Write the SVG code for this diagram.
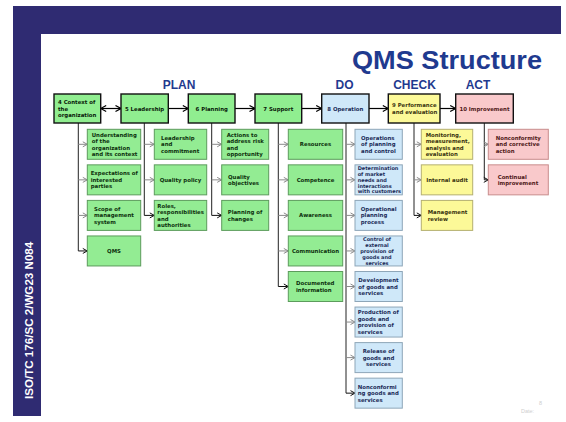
<svg xmlns="http://www.w3.org/2000/svg" width="566" height="422" viewBox="0 0 566 422">
<style>
.frame{fill:#2f2b72}
.gt{fill:#90ee90;stroke:#111;stroke-width:1.4}
.bt{fill:#cfe8f9;stroke:#111;stroke-width:1.4}
.yt{fill:#fcf998;stroke:#111;stroke-width:1.4}
.pt{fill:#f9c9cb;stroke:#111;stroke-width:1.4}
.g{fill:#93ec93;stroke:#5c9c5c;stroke-width:1}
.b{fill:#cfe8f9;stroke:#8ea6b8;stroke-width:1}
.y{fill:#fcf998;stroke:#b4b070;stroke-width:1}
.p{fill:#f9c9cb;stroke:#c88c8c;stroke-width:1}
.t{font-family:"DejaVu Sans",Verdana,sans-serif;font-weight:bold;font-size:5.4px}
.s{font-size:5px}
.m{text-anchor:middle}
.tk{fill:#0a1a0a}
.tg{fill:#0d300d}
.tb{fill:#1c2c58}
.ty{fill:#3a3410}
.tp{fill:#501818}
.phase{font-family:"Liberation Sans",Arial,sans-serif;font-weight:bold;font-size:12px;fill:#1f3a8f;text-anchor:middle}
.main{stroke:#000;stroke-width:1.2;fill:none}
.vert{stroke:#222;stroke-width:1;fill:none}
.sg{stroke:#8a8a8a;stroke-width:1;fill:none}
.sk{stroke:#111;stroke-width:1;fill:none}
</style>
<defs>
<marker id="ah" markerUnits="userSpaceOnUse" markerWidth="8" markerHeight="8" refX="7" refY="4" orient="auto-start-reverse"><path d="M1.5,1 L7,4 L1.5,7" fill="none" stroke="#000" stroke-width="1.2"/></marker>
<marker id="ahg" markerUnits="userSpaceOnUse" markerWidth="7" markerHeight="7" refX="5.5" refY="3.5" orient="auto"><path d="M1,1 L5.5,3.5 L1,6" fill="none" stroke="#8a8a8a" stroke-width="1"/></marker>
<marker id="ahk" markerUnits="userSpaceOnUse" markerWidth="7" markerHeight="7" refX="5.5" refY="3.5" orient="auto"><path d="M1,1 L5.5,3.5 L1,6" fill="none" stroke="#111" stroke-width="1"/></marker>
</defs>
<rect width="566" height="422" fill="#fff"/>
<g id="frame">
<rect class="frame" x="13" y="6" width="548" height="28"/>
<rect class="frame" x="13" y="6" width="28" height="410"/>
<text transform="translate(33.3,399) rotate(-90)" font-family="Liberation Sans,Arial,sans-serif" font-weight="bold" font-size="11.6" fill="#fff">ISO/TC 176/SC 2/WG23 N084</text>
</g>
<g id="title">
<text x="352" y="68.5" font-family="Liberation Sans,Arial,sans-serif" font-weight="bold" font-size="25.5" fill="#1f3a8f" textLength="190" lengthAdjust="spacingAndGlyphs">QMS Structure</text>
<text class="phase" x="179" y="89">PLAN</text>
<text class="phase" x="344.5" y="89">DO</text>
<text class="phase" x="414.5" y="89">CHECK</text>
<text class="phase" x="478" y="89">ACT</text>
</g>
<g id="connectors">
<line class="main" x1="100.7" y1="108.5" x2="121" y2="108.5" marker-start="url(#ah)" marker-end="url(#ah)"/>
<line class="main" x1="168.3" y1="108.5" x2="188.3" y2="108.5" marker-end="url(#ah)"/>
<line class="main" x1="235" y1="108.5" x2="255" y2="108.5" marker-end="url(#ah)"/>
<line class="main" x1="301.7" y1="108.5" x2="321.7" y2="108.5" marker-end="url(#ah)"/>
<line class="main" x1="369" y1="108.5" x2="388.3" y2="108.5" marker-end="url(#ah)"/>
<line class="main" x1="440" y1="108.5" x2="455.7" y2="108.5" marker-end="url(#ah)"/>
<path class="vert" d="M78.3,123 V250.95 M144.3,123 V215.4 M211.7,123 V215.4 M278.3,123 V286.5 M346,123 V393.15 M414,123 V215.4 M484.3,123 V179.85"/>
<line class="sg" x1="78.3" y1="144.3" x2="87.3" y2="144.3" marker-end="url(#ahg)"/>
<line class="sg" x1="78.3" y1="179.85" x2="87.3" y2="179.85" marker-end="url(#ahg)"/>
<line class="sg" x1="78.3" y1="215.4" x2="87.3" y2="215.4" marker-end="url(#ahg)"/>
<line class="sk" x1="78.3" y1="250.95" x2="87.3" y2="250.95" marker-end="url(#ahk)"/>
<line class="sg" x1="144.3" y1="144.3" x2="154.3" y2="144.3" marker-end="url(#ahg)"/>
<line class="sg" x1="144.3" y1="179.85" x2="154.3" y2="179.85" marker-end="url(#ahg)"/>
<line class="sk" x1="144.3" y1="215.4" x2="154.3" y2="215.4" marker-end="url(#ahk)"/>
<line class="sg" x1="211.7" y1="144.3" x2="221.7" y2="144.3" marker-end="url(#ahg)"/>
<line class="sg" x1="211.7" y1="179.85" x2="221.7" y2="179.85" marker-end="url(#ahg)"/>
<line class="sk" x1="211.7" y1="215.4" x2="221.7" y2="215.4" marker-end="url(#ahk)"/>
<line class="sg" x1="278.3" y1="144.3" x2="288.3" y2="144.3" marker-end="url(#ahg)"/>
<line class="sg" x1="278.3" y1="179.85" x2="288.3" y2="179.85" marker-end="url(#ahg)"/>
<line class="sg" x1="278.3" y1="215.4" x2="288.3" y2="215.4" marker-end="url(#ahg)"/>
<line class="sg" x1="278.3" y1="250.95" x2="288.3" y2="250.95" marker-end="url(#ahg)"/>
<line class="sk" x1="278.3" y1="286.5" x2="288.3" y2="286.5" marker-end="url(#ahk)"/>
<line class="sg" x1="346" y1="144.3" x2="355" y2="144.3" marker-end="url(#ahg)"/>
<line class="sg" x1="346" y1="179.85" x2="355" y2="179.85" marker-end="url(#ahg)"/>
<line class="sg" x1="346" y1="215.4" x2="355" y2="215.4" marker-end="url(#ahg)"/>
<line class="sg" x1="346" y1="250.95" x2="355" y2="250.95" marker-end="url(#ahg)"/>
<line class="sg" x1="346" y1="286.5" x2="355" y2="286.5" marker-end="url(#ahg)"/>
<line class="sg" x1="346" y1="322.05" x2="355" y2="322.05" marker-end="url(#ahg)"/>
<line class="sg" x1="346" y1="357.6" x2="355" y2="357.6" marker-end="url(#ahg)"/>
<line class="sk" x1="346" y1="393.15" x2="355" y2="393.15" marker-end="url(#ahk)"/>
<line class="sg" x1="414" y1="144.3" x2="421.3" y2="144.3" marker-end="url(#ahg)"/>
<line class="sg" x1="414" y1="179.85" x2="421.3" y2="179.85" marker-end="url(#ahg)"/>
<line class="sk" x1="414" y1="215.4" x2="421.3" y2="215.4" marker-end="url(#ahk)"/>
<line class="sg" x1="484.3" y1="144.3" x2="488.3" y2="144.3" marker-end="url(#ahg)"/>
<line class="sk" x1="484.3" y1="179.85" x2="488.3" y2="179.85" marker-end="url(#ahk)"/>
</g>
<g id="n4"><rect class="gt" x="54" y="94" width="46.7" height="29"/><text class="t tk" y="104"><tspan x="58">4 Context of</tspan><tspan x="58" dy="6.5">the</tspan><tspan x="58" dy="6.5">organization</tspan></text></g>
<g id="n5"><rect class="gt" x="121" y="94" width="47.3" height="29"/><text class="t tk m" x="144.6" y="110.5">5 Leadership</text></g>
<g id="n6"><rect class="gt" x="188.3" y="94" width="46.7" height="29"/><text class="t tk m" x="211.7" y="110.5">6 Planning</text></g>
<g id="n7"><rect class="gt" x="255" y="94" width="46.7" height="29"/><text class="t tk m" x="278.3" y="110.5">7 Support</text></g>
<g id="n8"><rect class="bt" x="321.7" y="94" width="47.3" height="29"/><text class="t tb m" x="345.3" y="110.5">8 Operation</text></g>
<g id="n9"><rect class="yt" x="388.3" y="94" width="51.7" height="29"/><text class="t ty" y="107.3"><tspan x="392">9 Performance</tspan><tspan x="392" dy="6.5">and evaluation</tspan></text></g>
<g id="n10"><rect class="pt" x="455.7" y="94" width="57.6" height="29"/><text class="t tp m" x="484.5" y="110.5">10 Improvement</text></g>

<g id="n4a"><rect class="g" x="87.3" y="129.3" width="53.4" height="30"/><text class="t tg" y="136.55"><tspan x="91.7">Understanding</tspan><tspan x="91.7" dy="6.5">of the</tspan><tspan x="91.7" dy="6.5">organization</tspan><tspan x="91.7" dy="6.5">and its context</tspan></text></g>
<g id="n4b"><rect class="g" x="87.3" y="164.85" width="53.4" height="30"/><text class="t tg" y="175.35"><tspan x="90.7">Expectations of</tspan><tspan x="90.7" dy="6.5">interested</tspan><tspan x="90.7" dy="6.5">parties</tspan></text></g>
<g id="n4c"><rect class="g" x="87.3" y="200.4" width="53.4" height="30"/><text class="t tg" y="210.9"><tspan x="94">Scope of</tspan><tspan x="94" dy="6.5">management</tspan><tspan x="94" dy="6.5">system</tspan></text></g>
<g id="n4d"><rect class="g" x="87.3" y="235.95" width="53.4" height="30"/><text class="t tg m" x="114" y="252.95">QMS</text></g>

<g id="n5a"><rect class="g" x="154.3" y="129.3" width="52.4" height="30"/><text class="t tg" y="139.8"><tspan x="161">Leadership</tspan><tspan x="161" dy="6.5">and</tspan><tspan x="161" dy="6.5">commitment</tspan></text></g>
<g id="n5b"><rect class="g" x="154.3" y="164.85" width="52.4" height="30"/><text class="t tg m" x="180.5" y="181.85">Quality policy</text></g>
<g id="n5c"><rect class="g" x="154.3" y="200.4" width="52.4" height="30"/><text class="t tg" y="207.65"><tspan x="157.3">Roles,</tspan><tspan x="157.3" dy="6.5">responsibilities</tspan><tspan x="157.3" dy="6.5">and</tspan><tspan x="157.3" dy="6.5">authorities</tspan></text></g>

<g id="n6a"><rect class="g" x="221.7" y="129.3" width="47" height="30"/><text class="t tg" y="136.55"><tspan x="226.7">Actions to</tspan><tspan x="226.7" dy="6.5">address risk</tspan><tspan x="226.7" dy="6.5">and</tspan><tspan x="226.7" dy="6.5">opportunity</tspan></text></g>
<g id="n6b"><rect class="g" x="221.7" y="164.85" width="47" height="30"/><text class="t tg" y="178.6"><tspan x="228">Quality</tspan><tspan x="228" dy="6.5">objectives</tspan></text></g>
<g id="n6c"><rect class="g" x="221.7" y="200.4" width="47" height="30"/><text class="t tg" y="214.15"><tspan x="227.7">Planning of</tspan><tspan x="227.7" dy="6.5">changes</tspan></text></g>

<g id="n7a"><rect class="g" x="288.3" y="129.3" width="54.4" height="30"/><text class="t tg m" x="315.5" y="146.3">Resources</text></g>
<g id="n7b"><rect class="g" x="288.3" y="164.85" width="54.4" height="30"/><text class="t tg m" x="315.5" y="181.85">Competence</text></g>
<g id="n7c"><rect class="g" x="288.3" y="200.4" width="54.4" height="30"/><text class="t tg m" x="315.5" y="217.4">Awareness</text></g>
<g id="n7d"><rect class="g" x="288.3" y="235.95" width="54.4" height="30"/><text class="t tg m" x="315.5" y="252.95">Communication</text></g>
<g id="n7e"><rect class="g" x="288.3" y="271.5" width="54.4" height="30"/><text class="t tg" y="285.25"><tspan x="296">Documented</tspan><tspan x="296" dy="6.5">information</tspan></text></g>

<g id="n8a"><rect class="b" x="355" y="129.3" width="47.3" height="30"/><text class="t tb" y="139.8"><tspan x="361">Operations</tspan><tspan x="361" dy="6.5">of planning</tspan><tspan x="361" dy="6.5">and control</tspan></text></g>
<g id="n8b"><rect class="b" x="355" y="164.85" width="47.3" height="30"/><text class="t s tb" y="169.85"><tspan x="357.7">Determination</tspan><tspan x="357.7" dy="5.9">of market</tspan><tspan x="357.7" dy="5.9">needs and</tspan><tspan x="357.7" dy="5.9">interactions</tspan><tspan x="357.7" dy="5.9">with customers</tspan></text></g>
<g id="n8c"><rect class="b" x="355" y="200.4" width="47.3" height="30"/><text class="t tb" y="210.9"><tspan x="360.7">Operational</tspan><tspan x="360.7" dy="6.5">planning</tspan><tspan x="360.7" dy="6.5">process</tspan></text></g>
<g id="n8d"><rect class="b" x="355" y="235.95" width="47.3" height="30"/><text class="t s tb m" y="240.95"><tspan x="377">Control of</tspan><tspan x="377" dy="5.9">external</tspan><tspan x="377" dy="5.9">provision of</tspan><tspan x="377" dy="5.9">goods and</tspan><tspan x="377" dy="5.9">services</tspan></text></g>
<g id="n8e"><rect class="b" x="355" y="271.5" width="47.3" height="30"/><text class="t tb" y="282"><tspan x="358.3">Development</tspan><tspan x="358.3" dy="6.5">of goods and</tspan><tspan x="358.3" dy="6.5">services</tspan></text></g>
<g id="n8f"><rect class="b" x="355" y="307.05" width="47.3" height="30"/><text class="t tb" y="314.3"><tspan x="357.7">Production of</tspan><tspan x="357.7" dy="6.5">goods and</tspan><tspan x="357.7" dy="6.5">provision of</tspan><tspan x="357.7" dy="6.5">services</tspan></text></g>
<g id="n8g"><rect class="b" x="355" y="342.6" width="47.3" height="30"/><text class="t tb m" y="353.1"><tspan x="378.5">Release of</tspan><tspan x="378.5" dy="6.5">goods and</tspan><tspan x="378.5" dy="6.5">services</tspan></text></g>
<g id="n8h"><rect class="b" x="355" y="378.15" width="47.3" height="30"/><text class="t tb" y="388.65"><tspan x="357.7">Nonconformi</tspan><tspan x="357.7" dy="6.5">ng goods and</tspan><tspan x="357.7" dy="6.5">services</tspan></text></g>

<g id="n9a"><rect class="y" x="421.3" y="129.3" width="51.4" height="30"/><text class="t ty" y="136.55"><tspan x="425.7">Monitoring,</tspan><tspan x="425.7" dy="6.5">measurement,</tspan><tspan x="425.7" dy="6.5">analysis and</tspan><tspan x="425.7" dy="6.5">evaluation</tspan></text></g>
<g id="n9b"><rect class="y" x="421.3" y="164.85" width="51.4" height="30"/><text class="t ty m" x="447" y="181.85">Internal audit</text></g>
<g id="n9c"><rect class="y" x="421.3" y="200.4" width="51.4" height="30"/><text class="t ty" y="214.15"><tspan x="427.7">Management</tspan><tspan x="427.7" dy="6.5">review</tspan></text></g>

<g id="n10a"><rect class="p" x="488.3" y="129.3" width="60" height="30"/><text class="t tp" y="139.8"><tspan x="495.7">Nonconformity</tspan><tspan x="495.7" dy="6.5">and corrective</tspan><tspan x="495.7" dy="6.5">action</tspan></text></g>
<g id="n10b"><rect class="p" x="488.3" y="164.85" width="60" height="30"/><text class="t tp" y="178.6"><tspan x="497.7">Continual</tspan><tspan x="497.7" dy="6.5">improvement</tspan></text></g>

<g id="footer" font-family="Liberation Sans,Arial,sans-serif" font-size="5.5" fill="#cfcfcf">
<text x="539" y="405">8</text>
<text x="521" y="413">Date:</text>
</g>
</svg>
